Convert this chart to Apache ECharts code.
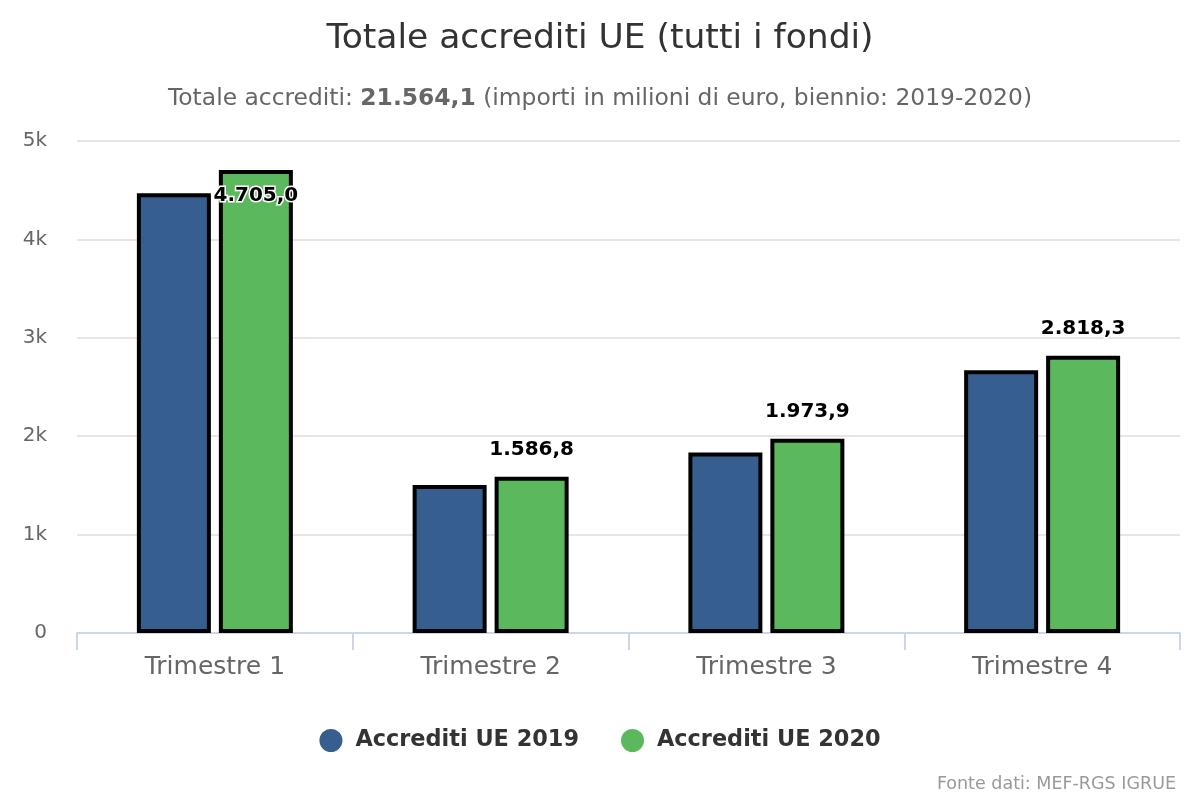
<!DOCTYPE html>
<html><head><meta charset="utf-8">
<script src="https://cdn.jsdelivr.net/npm/echarts@6/dist/echarts.min.js"></script>
<style>html,body{margin:0;padding:0;background:#fff}#c{width:1200px;height:800px}</style>
</head><body><div id="c"></div>
<script>
const categories = ['Trimestre 1', 'Trimestre 2', 'Trimestre 3', 'Trimestre 4'];
const values2019 = [4470, 1505, 1835, 2670];
const values2020 = [4705.0, 1586.8, 1973.9, 2818.3];
const yTicks = [0, 1000, 2000, 3000, 4000, 5000];
const seriesNames = ['Accrediti UE 2019', 'Accrediti UE 2020'];

const FONT = 'DejaVu Sans';
function fmt(v){
  const parts = v.toFixed(1).split('.');
  parts[0] = parts[0].replace(/\B(?=(\d{3})+(?!\d))/g, '.');
  return parts.join(',');
}
const labelStyle = {show:true, position:'top', distance:17, color:'#000', fontFamily:FONT, fontWeight:'bold', fontSize:20,
  textBorderColor:'#fff', textBorderWidth:3, formatter:p=>fmt(p.value)};
const data2020 = values2020.map((v,i)=> i===0 ? {value:v, label:{position:'insideTop', distance:16}} : v);

const chart = echarts.init(document.getElementById('c'), null, {renderer:'canvas'});
chart.setOption({
  animation:false,
  color:['#365f8f','#5cb85c'],
  title:[
    {text:'Totale accrediti UE (tutti i fondi)', left:'center', top:17,
     textStyle:{fontFamily:FONT, fontSize:34.5, fontWeight:'normal', color:'#333'}},
    {text:'{n|Totale accrediti: }{b|21.564,1}{n| (importi in milioni di euro, biennio: 2019-2020)}', left:'center', top:82,
     textStyle:{fontWeight:'normal', rich:{n:{fontFamily:FONT, fontSize:23.4, color:'#666', fontWeight:'normal'}, b:{fontFamily:FONT, fontSize:23.4, color:'#666', fontWeight:'bold'}}}},
    {text:'Fonte dati: MEF-RGS IGRUE', right:19, top:770,
     textStyle:{fontFamily:FONT, fontSize:17.5, fontWeight:'normal', color:'#999'}}
  ],
  legend:{bottom:43, left:'center', icon:'circle', itemWidth:23, itemHeight:23, itemGap:42,
    itemStyle:{borderWidth:0},
    textStyle:{fontFamily:FONT, fontSize:22.4, fontWeight:'bold', color:'#333', padding:[0,0,0,8]}, data:seriesNames},
  grid:{left:77, right:20, top:141, bottom:167},
  xAxis:{type:'category', data:categories,
    axisLine:{lineStyle:{color:'#ccd6eb', width:2}},
    axisTick:{show:true, length:17, lineStyle:{color:'#ccd6eb', width:2}},
    axisLabel:{fontFamily:FONT, fontSize:25, color:'#666', margin:22}},
  yAxis:{type:'value', min:yTicks[0], max:yTicks[yTicks.length-1], interval:1000,
    axisLine:{show:false}, axisTick:{show:false},
    splitLine:{lineStyle:{color:'#e6e6e6', width:2}},
    axisLabel:{fontFamily:FONT, fontSize:20, color:'#666', margin:30,
      formatter:v=> v===0 ? '0' : (v/1000)+'k'}},
  series:[
    {name:seriesNames[0], type:'bar', data:values2019, barWidth:74, barGap:'10.8%',
     itemStyle:{borderColor:'#000', borderWidth:4}},
    {name:seriesNames[1], type:'bar', data:data2020, barWidth:74,
     itemStyle:{borderColor:'#000', borderWidth:4}, label:labelStyle}
  ]
});
</script></body></html>
